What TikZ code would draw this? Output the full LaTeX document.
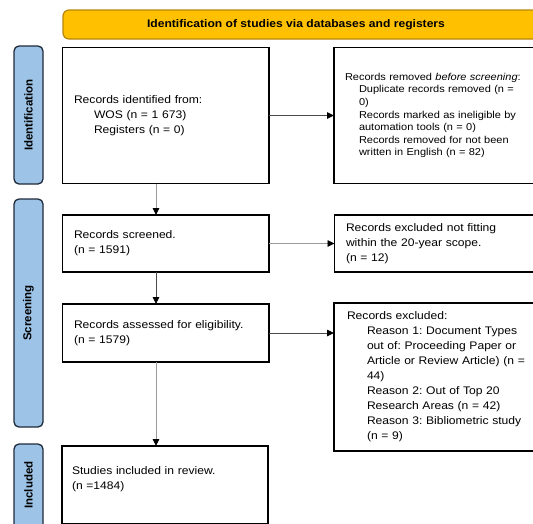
\documentclass[tikz,border=0pt]{standalone}
\usepackage{fontspec}
\setmainfont{Liberation Sans}[FakeStretch=1.1]
\newfontfamily\sidefont{Liberation Sans}
\usetikzlibrary{arrows.meta}
\definecolor{hdrfill}{HTML}{FFC000}
\definecolor{hdrdraw}{HTML}{B8860B}
\definecolor{barfill}{HTML}{9DC3E6}
\definecolor{bardraw}{HTML}{1F2A3A}
\definecolor{arrlight}{HTML}{9A9A9A}
\definecolor{arrdark}{HTML}{4A4A4A}
\frenchspacing
\begin{document}
\begin{tikzpicture}[x=1pt,y=-1pt,
  box/.style={draw=black, line width=1.3pt, outer sep=0pt, inner ysep=0pt,
    anchor=north west, align=left, font=\fontsize{11}{15}\selectfont},
  sidebar/.style={draw=bardraw, fill=barfill, line width=1.3pt, rounded corners=5pt,
    anchor=north west, minimum width=29pt, inner sep=0pt, outer sep=0pt},
  sidelabel/.style={rotate=90, font=\sidefont\bfseries\fontsize{11.5}{13}\selectfont},
  arrowline/.style={line width=0.9pt, -{Triangle[length=7pt,width=6.5pt,color=black]}},
]
\clip (0,0) rectangle (533,523);

% header
\node[draw=hdrdraw, fill=hdrfill, line width=1.2pt, rounded corners=6pt,
  anchor=north west, minimum width=482pt, minimum height=29pt, inner sep=0pt,
  outer sep=0pt] (hdr) at (63,10) {};
\node[font=\bfseries\fontsize{11}{13}\selectfont] (hdrtext) at (296,24.5)
  {Identification of studies via databases and registers};

% side bars
\node[sidebar, minimum height=138pt] (bar1) at (14,46) {};
\node[sidebar, minimum height=228pt] (bar2) at (14,199) {};
\node[sidebar, minimum height=96pt] (bar3) at (14,444) {};
\node[sidelabel] (lab1) at (28.5,115) {Identification};
\node[sidelabel] (lab2) at (28.5,313) {Screening};
\node[sidelabel] (lab3) at (28.5,485) {Included};

% boxes
\node[box, inner xsep=11.5pt, text width=183.5pt, minimum height=136pt] (b1) at (62.5,47.5)
  {Records identified from:\\
   \hspace*{20pt}WOS (n = 1 673)\\
   \hspace*{20pt}Registers (n = 0)};
\node[box, inner xsep=11pt, text width=189pt, minimum height=136pt,
  font=\fontsize{10}{12.6}\selectfont] (b2) at (334,47.5)
  {Records removed \textit{before screening}:\\
   \hspace*{14pt}Duplicate records removed (n =\\
   \hspace*{14pt}0)\\
   \hspace*{14pt}Records marked as ineligible by\\
   \hspace*{14pt}automation tools (n = 0)\\
   \hspace*{14pt}Records removed for not been\\
   \hspace*{14pt}written in English (n = 82)};
\node[box, inner xsep=11.5pt, text width=183.5pt, minimum height=57pt] (b3) at (62.5,215)
  {Records screened.\\(n = 1591)};
\node[box, inner xsep=11.5pt, text width=187.5pt, minimum height=57pt] (b4) at (334.5,215)
  {Records excluded not fitting\\within the 20-year scope.\\(n = 12)};
\node[box, inner xsep=11.5pt, text width=183.5pt, minimum height=58pt] (b5) at (62.5,304)
  {Records assessed for eligibility.\\(n = 1579)};
\node[box, inner xsep=13pt, text width=185pt, minimum height=148pt] (b6) at (334,303)
  {Records excluded:\\
   \hspace*{20pt}Reason 1: Document Types\\
   \hspace*{20pt}out of: Proceeding Paper or\\
   \hspace*{20pt}Article or Review Article) (n =\\
   \hspace*{20pt}44)\\
   \hspace*{20pt}Reason 2: Out of Top 20\\
   \hspace*{20pt}Research Areas (n = 42)\\
   \hspace*{20pt}Reason 3: Bibliometric study\\
   \hspace*{20pt}(n = 9)};
\node[box, inner xsep=10pt, text width=186pt, minimum height=78pt] (b7) at (62,446)
  {Studies included in review.\\(n =1484)\\[-1pt]\mbox{}};

% connectors
\draw[arrowline, draw=arrdark] (b1.east) -- (b1.east -| b2.west);
\draw[arrowline, draw=arrlight] (b3.east) -- (b3.east -| b4.west);
\draw[arrowline, draw=arrdark] (b5.east) -- (b5.east -| b6.west);
\draw[arrowline, draw=arrlight] ([xshift=93.5pt]b1.south west) -- ([xshift=93.5pt]b3.north west);
\draw[arrowline, draw=arrdark] ([xshift=93.5pt]b3.south west) -- ([xshift=93.5pt]b5.north west);
\draw[arrowline, draw=arrlight] ([xshift=93.5pt]b5.south west) -- ([xshift=94pt]b7.north west);
\end{tikzpicture}
\end{document}
